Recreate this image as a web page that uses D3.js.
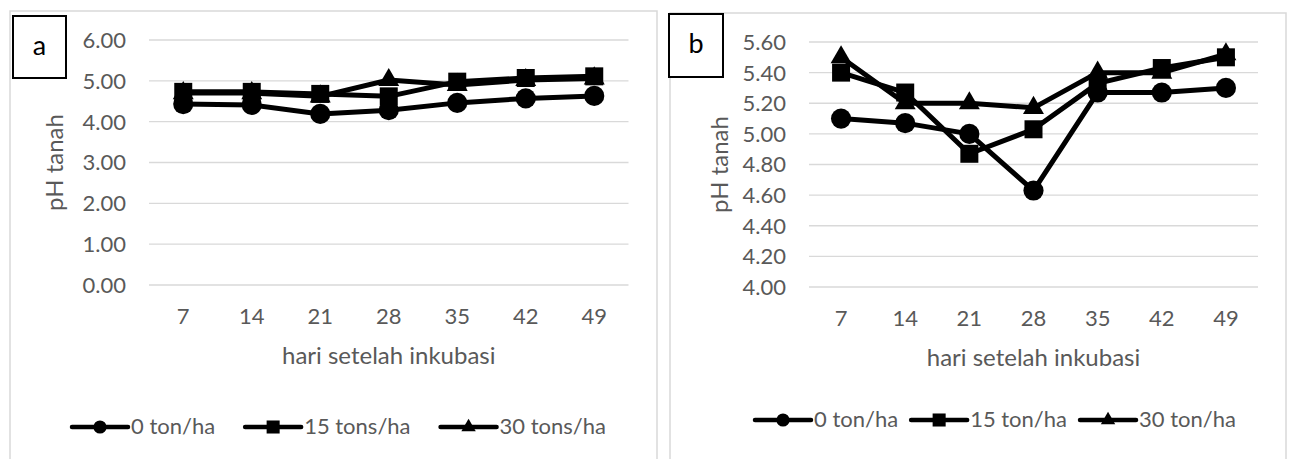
<!DOCTYPE html>
<html>
<head>
<meta charset="utf-8">
<script src="https://cdn.jsdelivr.net/npm/d3@7"></script>
<style>
  body { margin: 0; background: #fff; }
  svg { display: block; }
  text { font-family: Lato, "Open Sans", sans-serif; }
</style>
</head>
<body>
<svg id="chart" width="1290" height="459"></svg>
<script>
// days after incubation
var days = [7, 14, 21, 28, 35, 42, 49];

// panel a - soil pH
var phA0  = [4.43, 4.41, 4.19, 4.28, 4.46, 4.57, 4.63];
var phA15 = [4.73, 4.73, 4.68, 4.62, 4.98, 5.07, 5.11];
var phA30 = [4.70, 4.70, 4.62, 5.02, 4.90, 5.02, 5.06];
var ticksA = [0, 1, 2, 3, 4, 5, 6];
var legendA = ["0 ton/ha", "15 tons/ha", "30 tons/ha"];

// panel b - soil pH
var phB0  = [5.10, 5.07, 5.00, 4.63, 5.27, 5.27, 5.30];
var phB15 = [5.40, 5.27, 4.87, 5.03, 5.33, 5.43, 5.50];
var phB30 = [5.50, 5.20, 5.20, 5.17, 5.40, 5.40, 5.52];
var ticksB = [4.0, 4.2, 4.4, 4.6, 4.8, 5.0, 5.2, 5.4, 5.6];
var legendB = ["0 ton/ha", "15 ton/ha", "30 ton/ha"];

var xTitle = "hari setelah inkubasi";
var yTitle = "pH tanah";

var svg = d3.select("#chart");
var gray = "#595959";
var symbols = [d3.symbolCircle, d3.symbolSquare, d3.symbolTriangle];
var markerSize = [320, 324, 190];
var legendMarkerSize = [135, 170, 90];

function drawPanel(p) {
    // outer frame of the chart
    svg.append("rect")
        .attr("x", p.frame[0]).attr("y", p.frame[1])
        .attr("width", p.frame[2] - p.frame[0]).attr("height", 500)
        .attr("fill", "none").attr("stroke", "#d9d9d9").attr("stroke-width", 1.5);

    var x = d3.scaleBand().domain(days).range([p.left, p.right]);
    var y = d3.scaleLinear().domain(p.domain).range([p.bottom, p.top]);

    // gridlines
    svg.append("g").selectAll("line")
        .data(p.ticks).enter().append("line")
        .attr("x1", p.left).attr("x2", p.right)
        .attr("y1", function (d) { return y(d); })
        .attr("y2", function (d) { return y(d); })
        .attr("stroke", "#d9d9d9").attr("stroke-width", 1.4);

    // y tick labels
    svg.append("g").selectAll("text")
        .data(p.ticks).enter().append("text")
        .attr("x", p.left - 23)
        .attr("y", function (d) { return y(d); })
        .attr("dy", "0.36em")
        .attr("text-anchor", "end")
        .attr("font-size", 22).attr("fill", gray)
        .text(function (d) { return d3.format(".2f")(d); });

    // x tick labels
    svg.append("g").selectAll("text")
        .data(days).enter().append("text")
        .attr("x", function (d) { return x(d) + x.bandwidth() / 2; })
        .attr("y", p.bottom + 39)
        .attr("text-anchor", "middle")
        .attr("font-size", 22).attr("fill", gray)
        .text(function (d) { return d; });

    // axis titles
    svg.append("text")
        .attr("x", (p.left + p.right) / 2)
        .attr("y", p.bottom + 79)
        .attr("text-anchor", "middle")
        .attr("font-size", 24).attr("fill", gray)
        .text(xTitle);
    svg.append("text")
        .attr("transform", "translate(" + p.yTitleX + "," + (p.top + p.bottom) / 2 + ") rotate(-90)")
        .attr("text-anchor", "middle")
        .attr("font-size", 24).attr("fill", gray)
        .text(yTitle);

    // series
    var line = d3.line()
        .x(function (d, i) { return x(days[i]) + x.bandwidth() / 2; })
        .y(function (d) { return y(d); });

    p.series.forEach(function (s, k) {
        svg.append("path")
            .datum(s)
            .attr("d", line)
            .attr("fill", "none").attr("stroke", "#000")
            .attr("stroke-width", 5).attr("stroke-linejoin", "round");
        svg.append("g").selectAll("path")
            .data(s).enter().append("path")
            .attr("d", d3.symbol().type(symbols[k]).size(markerSize[k]))
            .attr("transform", function (d, i) {
                return "translate(" + (x(days[i]) + x.bandwidth() / 2) + "," + y(d) + ")";
            })
            .attr("fill", "#000");
    });

    // label box
    svg.append("rect")
        .attr("x", p.box[0]).attr("y", p.box[1])
        .attr("width", p.box[2]).attr("height", p.box[3])
        .attr("fill", "#fff").attr("stroke", "#000").attr("stroke-width", 2);
    svg.append("text")
        .attr("x", p.box[0] + p.box[2] / 2)
        .attr("y", p.box[1] + 39)
        .attr("text-anchor", "middle")
        .attr("font-size", 27).attr("fill", "#000")
        .text(p.letter);

    // legend
    var lx = p.legendX;
    p.legend.forEach(function (name, k) {
        var g = svg.append("g");
        g.append("line")
            .attr("x1", lx).attr("x2", lx + 56)
            .attr("y1", p.legendY).attr("y2", p.legendY)
            .attr("stroke", "#000").attr("stroke-width", 4.5).attr("stroke-linecap", "round");
        g.append("path")
            .attr("d", d3.symbol().type(symbols[k]).size(legendMarkerSize[k]))
            .attr("transform", "translate(" + (lx + 28) + "," + p.legendY + ")")
            .attr("fill", "#000");
        var t = g.append("text")
            .attr("x", lx + 59)
            .attr("y", p.legendY + 7)
            .attr("font-size", 22).attr("fill", gray)
            .text(name);
        lx = lx + 59 + t.node().getComputedTextLength() + p.legendGap;
    });
}

drawPanel({
    frame: [10, 11, 657],
    left: 149, right: 628.5, top: 40, bottom: 285,
    domain: [0, 6], ticks: ticksA,
    series: [phA0, phA15, phA30],
    yTitleX: 63,
    box: [13, 16, 53, 62], letter: "a",
    legend: legendA, legendX: 72, legendY: 427, legendGap: 30
});

drawPanel({
    frame: [670, 13, 1286],
    left: 809, right: 1258, top: 42, bottom: 287,
    domain: [4, 5.6], ticks: ticksB,
    series: [phB0, phB15, phB30],
    yTitleX: 728,
    box: [669, 14, 54, 63], letter: "b",
    legend: legendB, legendX: 755, legendY: 420, legendGap: 13
});
</script>
</body>
</html>
